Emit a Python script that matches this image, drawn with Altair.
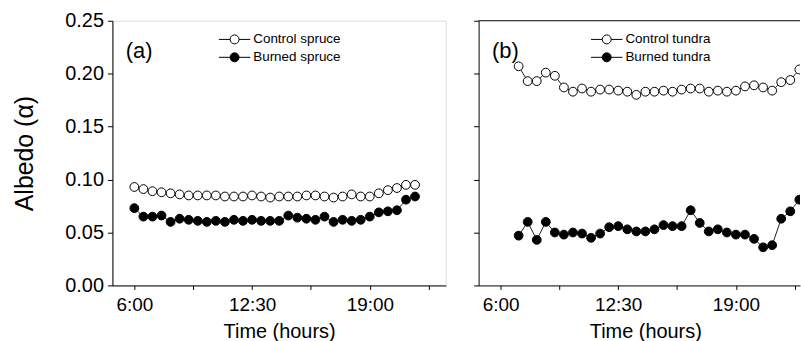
import altair as alt
import pandas as pd

# ---------------- data ----------------
spruce_hours = [6.0, 6.5, 7.0, 7.5, 8.0, 8.5, 9.0, 9.5, 10.0, 10.5, 11.0, 11.5,
                12.0, 12.5, 13.0, 13.5, 14.0, 14.5, 15.0, 15.5, 16.0, 16.5, 17.0, 17.5,
                18.0, 18.5, 19.0, 19.5, 20.0, 20.5, 21.0, 21.5]
control_spruce = [0.093, 0.091, 0.089, 0.088, 0.087, 0.086, 0.085, 0.085, 0.085, 0.085,
                  0.084, 0.084, 0.084, 0.085, 0.084, 0.083, 0.084, 0.084, 0.084, 0.085,
                  0.085, 0.084, 0.083, 0.084, 0.086, 0.084, 0.084, 0.087, 0.090, 0.092,
                  0.095, 0.095]
burned_spruce = [0.073, 0.065, 0.065, 0.066, 0.060, 0.063, 0.062, 0.061, 0.060, 0.061,
                 0.060, 0.062, 0.061, 0.062, 0.061, 0.061, 0.061, 0.066, 0.064, 0.063,
                 0.062, 0.065, 0.060, 0.062, 0.061, 0.062, 0.065, 0.069, 0.070, 0.071,
                 0.081, 0.084]

tundra_hours = [7.0, 7.5, 8.0, 8.5, 9.0, 9.5, 10.0, 10.5, 11.0, 11.5, 12.0, 12.5,
                13.0, 13.5, 14.0, 14.5, 15.0, 15.5, 16.0, 16.5, 17.0, 17.5, 18.0, 18.5,
                19.0, 19.5, 20.0, 20.5, 21.0, 21.5, 22.0, 22.5]
control_tundra = [0.207, 0.193, 0.193, 0.201, 0.198, 0.187, 0.183, 0.186, 0.183, 0.185,
                  0.185, 0.184, 0.183, 0.180, 0.183, 0.183, 0.184, 0.183, 0.185, 0.186,
                  0.186, 0.183, 0.184, 0.183, 0.184, 0.188, 0.189, 0.187, 0.184, 0.192,
                  0.194, 0.204]
burned_tundra = [0.047, 0.060, 0.043, 0.060, 0.050, 0.048, 0.050, 0.049, 0.045, 0.049,
                 0.055, 0.056, 0.053, 0.051, 0.051, 0.053, 0.057, 0.056, 0.056, 0.071,
                 0.059, 0.051, 0.053, 0.050, 0.048, 0.048, 0.044, 0.036, 0.038, 0.063,
                 0.070, 0.081]

spruce_series = ["Control spruce", "Burned spruce"]
tundra_series = ["Control tundra", "Burned tundra"]
panel_labels = ["(a)", "(b)"]

y_tick_values = [0.0, 0.025, 0.05, 0.075, 0.1, 0.125, 0.15, 0.175, 0.2, 0.225, 0.25]
y_tick_labels = ["0.00", "", "0.05", "", "0.10", "", "0.15", "", "0.20", "", "0.25"]
x_tick_values = [6.0, 7.625, 9.25, 10.875, 12.5, 14.125, 15.75, 17.375, 19.0, 20.625, 22.25]
x_tick_labels = ["6:00", "", "", "", "12:30", "", "", "", "19:00", "", ""]

# ---------------- styling ----------------
FONT = "Liberation Sans"
TICK_FONT_SIZE = 19
X0 = 4.79
PX_PER_HOUR = 18.2
LEFT_W = 335
RIGHT_W = 323
H = 266
LEFT_DOMAIN = [X0, X0 + LEFT_W / PX_PER_HOUR]
RIGHT_DOMAIN = [X0, X0 + RIGHT_W / PX_PER_HOUR]


def js_list(vals):
    return "[" + ",".join(repr(v) if isinstance(v, str) else str(v) for v in vals) + "]"


y_label_expr = f"{js_list(y_tick_labels)}[indexof({js_list(y_tick_values)}, datum.value)]"
y_major_test = f"{js_list(y_tick_labels)}[indexof({js_list(y_tick_values)}, datum.value)] != ''"
x_label_expr = f"{js_list(x_tick_labels)}[indexof({js_list(x_tick_values)}, datum.value)]"

LEGEND_SYMBOL = "M-3.5,0L-1,0M1,0L3.5,0M-1,0A1,1,0,1,0,1,0A1,1,0,1,0,-1,0Z"


def long_df(hours, a, b, names):
    rows = []
    for h, v in zip(hours, a):
        rows.append({"t": h, "v": v, "series": names[0]})
    for h, v in zip(hours, b):
        rows.append({"t": h, "v": v, "series": names[1]})
    return pd.DataFrame(rows)


def make_panel(df, names, domain, width, label, legend_x, show_y_labels, x_title_x):
    x_axis = alt.Axis(
        values=x_tick_values, labelExpr=x_label_expr, title="Time (hours)",
        tickSize=4, tickColor="black", domainColor="black", labelColor="black",
        labelFont=FONT, labelFontSize=TICK_FONT_SIZE, labelPadding=6,
        labelFlush=False, labelOverlap=False, grid=False,
        titleFont=FONT, titleFontSize=20, titleFontWeight="normal", titleColor="black",
        titlePadding=7, titleX=x_title_x,
    )
    if show_y_labels:
        y_axis = alt.Axis(
            values=y_tick_values, labelExpr=y_label_expr, title="Albedo (α)",
            tickSize={"condition": {"test": y_major_test, "value": 5}, "value": 3},
            tickColor="black", domainColor="black", labelColor="black",
            labelFont=FONT, labelFontSize=20, labelPadding=4,
            labelFlush=False, labelOverlap=False, grid=False,
            titleFont=FONT, titleFontSize=25, titleFontWeight="normal", titleColor="black",
            titlePadding=27,
        )
    else:
        y_axis = alt.Axis(
            values=y_tick_values, labels=False, title=None,
            tickSize={"condition": {"test": y_major_test, "value": 5}, "value": 3},
            tickColor="black", domainColor="black", grid=False,
        )
    x = alt.X("t:Q", scale=alt.Scale(domain=domain, nice=False, zero=False), axis=x_axis)
    y = alt.Y("v:Q", scale=alt.Scale(domain=[0, 0.25], nice=False), axis=y_axis)

    lines = alt.Chart(df).mark_line(color="#222222", strokeWidth=1, clip=True).encode(
        x=x, y=y, detail="series:N"
    )
    points = alt.Chart(df).mark_point(
        shape="circle", filled=True, stroke="black", strokeWidth=1, size=78,
        opacity=1, clip=True
    ).encode(
        x=x, y=y,
        fill=alt.Fill(
            "series:N",
            scale=alt.Scale(domain=names, range=["white", "black"]),
            legend=alt.Legend(
                title=None, orient="none", legendX=legend_x, legendY=12,
                symbolType=LEGEND_SYMBOL, symbolSize=81, symbolStrokeColor="black",
                symbolStrokeWidth=1, symbolOpacity=1, padding=0,
                labelFont=FONT, labelFontSize=13.5, labelColor="black",
                labelOffset=12, rowPadding=3,
            ),
        ),
        order=alt.Order("series:N"),
    )
    text = alt.Chart(pd.DataFrame({"label": [label]})).mark_text(
        align="left", baseline="alphabetic", font=FONT, fontSize=22, color="black"
    ).encode(
        x=alt.datum(5.53), y=alt.datum(0.2152), text="label:N"
    )
    return lines, points, text


left_df = long_df(spruce_hours, control_spruce, burned_spruce, spruce_series)
right_df = long_df(tundra_hours, control_tundra, burned_tundra, tundra_series)

l_lines, l_points, l_text = make_panel(left_df, spruce_series, LEFT_DOMAIN, LEFT_W,
                                       panel_labels[0], 116, True, LEFT_W / 2)
left = alt.layer(l_lines, l_points, l_text).properties(width=LEFT_W, height=H)

r_lines, r_points, r_text = make_panel(right_df, tundra_series, RIGHT_DOMAIN, RIGHT_W,
                                       panel_labels[1], 122, False, LEFT_W / 2)
top_border = alt.Chart(pd.DataFrame({"v": [0.25]})).mark_rule(
    color="black", strokeWidth=1
).encode(y=alt.Y("v:Q", scale=alt.Scale(domain=[0, 0.25], nice=False)))
right = alt.layer(top_border, r_lines, r_points, r_text).properties(
    width=RIGHT_W, height=H, view=alt.ViewBackground(stroke="transparent")
)

chart = alt.hconcat(left, right, spacing=26).resolve_scale(
    fill="independent", x="independent", y="independent"
).resolve_legend(fill="independent").properties(
    padding={"left": 12, "top": 9, "right": 0, "bottom": 0}
).configure_view(stroke="black", strokeWidth=1).configure(background="white")

chart.save("out.html", embed_options={"renderer": "svg", "actions": False})
